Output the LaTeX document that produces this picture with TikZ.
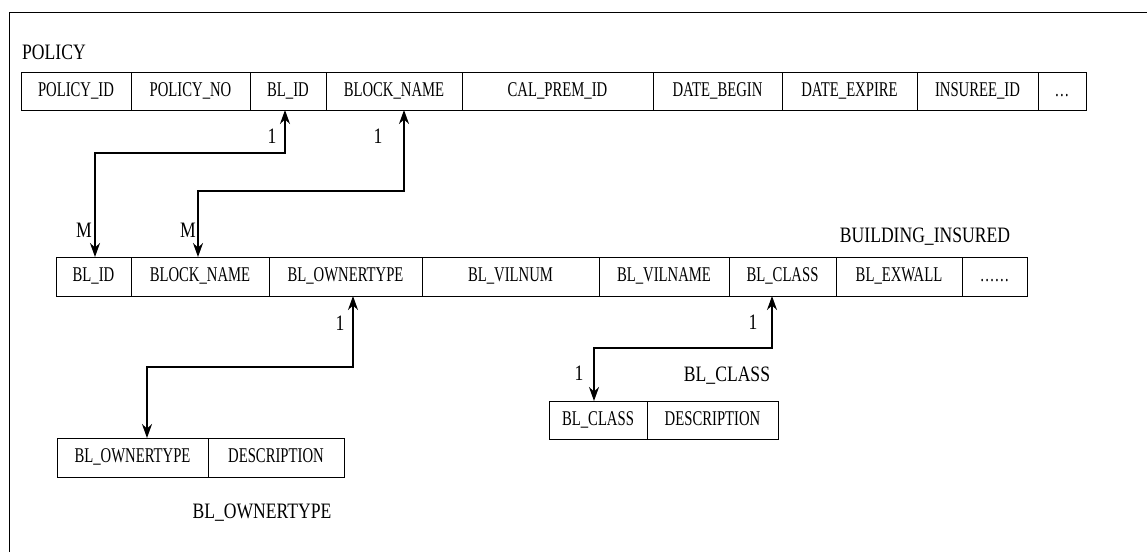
\documentclass[tikz,border=0pt]{standalone}
\usepackage{fontspec}
\setmainfont{Liberation Serif}
\newfontfamily\cellfont[FakeStretch=0.7]{Liberation Serif}
\newfontfamily\namefont[FakeStretch=0.8]{Liberation Serif}
\usetikzlibrary{positioning,arrows.meta}

\tikzset{
  cell/.style={draw, line width=0.9pt, minimum height=38pt, inner sep=0pt,
    outer sep=0pt, anchor=west, text height=14pt, text depth=4pt,
    font=\cellfont\fontsize{21}{22}\selectfont},
  tname/.style={inner sep=0pt, font=\namefont\fontsize{22}{24}\selectfont},
  card/.style={inner sep=0pt, font=\namefont\fontsize{22}{24}\selectfont},
  link/.style={line width=1.7pt,
    {Stealth[length=14pt,width=10pt]}-{Stealth[length=14pt,width=10pt]}},
}

\begin{document}
\begin{tikzpicture}[x=1pt,y=-1pt]
  \useasboundingbox (0,0) rectangle (1147,552);
  \draw[line width=1pt] (9,552) -- (9,12) -- (1147,12);

  % POLICY
  \node[tname, anchor=west] (tpolicy) at (22,52) {POLICY};
  \node[cell, minimum width=110pt] (p1) at (21,91) {POLICY\_ID};
  \node[cell, minimum width=119pt, right=0pt of p1] (p2) {POLICY\_NO};
  \node[cell, minimum width=76pt, right=0pt of p2] (p3) {BL\_ID};
  \node[cell, minimum width=136pt, right=0pt of p3] (p4) {BLOCK\_NAME};
  \node[cell, minimum width=191pt, right=0pt of p4] (p5) {CAL\_PREM\_ID};
  \node[cell, minimum width=129pt, right=0pt of p5] (p6) {DATE\_BEGIN};
  \node[cell, minimum width=135pt, right=0pt of p6] (p7) {DATE\_EXPIRE};
  \node[cell, minimum width=121pt, right=0pt of p7] (p8) {INSUREE\_ID};
  \node[cell, minimum width=48pt, right=0pt of p8] (p9) {\ldots};

  % BUILDING_INSURED
  \node[tname] (tbuild) at (925,237) {BUILDING\_INSURED};
  \node[cell, minimum width=75pt, minimum height=39pt] (b1) at (56,276.5) {BL\_ID};
  \node[cell, minimum width=138pt, minimum height=39pt, right=0pt of b1] (b2) {BLOCK\_NAME};
  \node[cell, minimum width=153pt, minimum height=39pt, right=0pt of b2] (b3) {BL\_OWNERTYPE};
  \node[cell, minimum width=177pt, minimum height=39pt, right=0pt of b3] (b4) {BL\_VILNUM};
  \node[cell, minimum width=130pt, minimum height=39pt, right=0pt of b4] (b5) {BL\_VILNAME};
  \node[cell, minimum width=107pt, minimum height=39pt, right=0pt of b5] (b6) {BL\_CLASS};
  \node[cell, minimum width=126pt, minimum height=39pt, right=0pt of b6] (b7) {BL\_EXWALL};
  \node[cell, minimum width=65pt, minimum height=39pt, right=0pt of b7] (b8) {\ldots\ldots};

  % BL_OWNERTYPE
  \node[cell, minimum width=151pt, minimum height=39pt] (o1) at (57,457.5) {BL\_OWNERTYPE};
  \node[cell, minimum width=136pt, minimum height=39pt, right=0pt of o1] (o2) {DESCRIPTION};
  \node[tname] (towner) at (262,513) {BL\_OWNERTYPE};

  % BL_CLASS
  \node[tname] (tclass) at (727,376) {BL\_CLASS};
  \node[cell, minimum width=98pt] (c1) at (549,420) {BL\_CLASS};
  \node[cell, minimum width=131pt, right=0pt of c1] (c2) {DESCRIPTION};

  % relations
  \draw[link] ([xshift=1.5pt]b1.north) -- ++(0,-104) -| ([xshift=-3pt]p3.south);
  \draw[link] ([xshift=-2pt]b2.north) -- ++(0,-66) -| ([xshift=10pt]p4.south);
  \draw[link] ([xshift=7.5pt]b3.south) -- ++(0,71) -| ([xshift=14.5pt]o1.north);
  \draw[link] ([xshift=-10.5pt]b6.south) -- ++(0,52) -| ([xshift=-4pt]c1.north);

  \node[card] (n1) at (272,136) {1};
  \node[card] (n2) at (378,136) {1};
  \node[card] (m1) at (84,230) {M};
  \node[card] (m2) at (188,230) {M};
  \node[card] (n3) at (340,323) {1};
  \node[card] (n4) at (753,322) {1};
  \node[card] (n5) at (579,373) {1};
\end{tikzpicture}
\end{document}
